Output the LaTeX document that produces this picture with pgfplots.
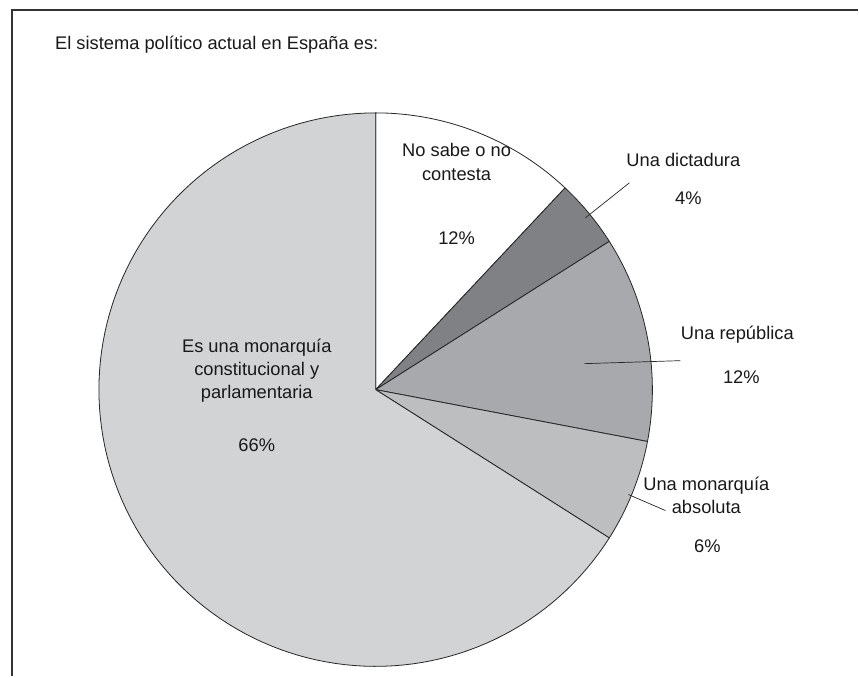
\documentclass[border=0pt]{standalone}
\usepackage{pgfplots}
\pgfplotsset{compat=1.18}
\usepackage{fontspec}
\setmainfont{Liberation Sans}
\definecolor{cNo}{HTML}{FFFFFF}
\definecolor{cDic}{HTML}{808184}
\definecolor{cRep}{HTML}{A7A9AC}
\definecolor{cAbs}{HTML}{BCBEC0}
\definecolor{cCon}{HTML}{D1D3D4}
\newcommand{\cx}{376}
\newcommand{\cy}{287}
\newcommand{\R}{277}
\def\cur{90}
\newcommand{\slice}[2]{%
  \pgfmathsetmacro{\sa}{\cur}%
  \pgfmathsetmacro{\sb}{\cur-3.6*#1}%
  \xdef\cur{\sb}%
  \addplot[fill=#2, draw=black!85, line width=0.8pt, domain=\sb:\sa, samples=120, variable=\t]
    ({\cx+\R*cos(\t)},{\cy+\R*sin(\t)}) -- (axis cs:\cx,\cy) -- cycle;
}
\tikzset{lbl/.style={font=\fontsize{18.3}{23.5}\selectfont, inner sep=0pt, align=center, text=black!90}}
\begin{document}
\begin{tikzpicture}
\begin{axis}[
  width=859pt, height=677pt, scale only axis,
  xmin=0, xmax=859, ymin=0, ymax=677,
  hide axis, clip=false,
]
\addplot[draw=none] coordinates {(0,0) (859,677)};
% data: percentages, clockwise from 12 o'clock
\slice{12}{cNo}   % No sabe o no contesta
\slice{4}{cDic}   % Una dictadura
\slice{12}{cRep}  % Una república
\slice{6}{cAbs}   % Una monarquía absoluta
\slice{66}{cCon}  % Es una monarquía constitucional y parlamentaria
% frame
\draw[line width=1.6pt, black!80] (axis cs:12,0) -- (axis cs:12,667) -- (axis cs:859,667);
% leaders
\draw[line width=0.7pt, black!85] (axis cs:586,459) -- (axis cs:630,494);
\draw[line width=0.7pt, black!85] (axis cs:585,313) -- (axis cs:681,316);
\draw[line width=0.7pt, black!85] (axis cs:629,182) -- (axis cs:666,166);
% labels
\node[lbl, anchor=west] at (axis cs:55,632) {El sistema político actual en España es:};
\node[lbl] at (axis cs:457,515) {No sabe o no\\contesta};
\node[lbl] at (axis cs:457,439) {12\%};
\node[lbl] at (axis cs:684,517) {Una dictadura};
\node[lbl] at (axis cs:689,479) {4\%};
\node[lbl] at (axis cs:738,342) {Una república};
\node[lbl] at (axis cs:742,299) {12\%};
\node[lbl] at (axis cs:707,181) {Una monarquía\\absoluta};
\node[lbl] at (axis cs:708,130) {6\%};
\node[lbl] at (axis cs:257,306) {Es una monarquía\\constitucional y\\parlamentaria};
\node[lbl] at (axis cs:257,231) {66\%};
\end{axis}
\end{tikzpicture}
\end{document}
